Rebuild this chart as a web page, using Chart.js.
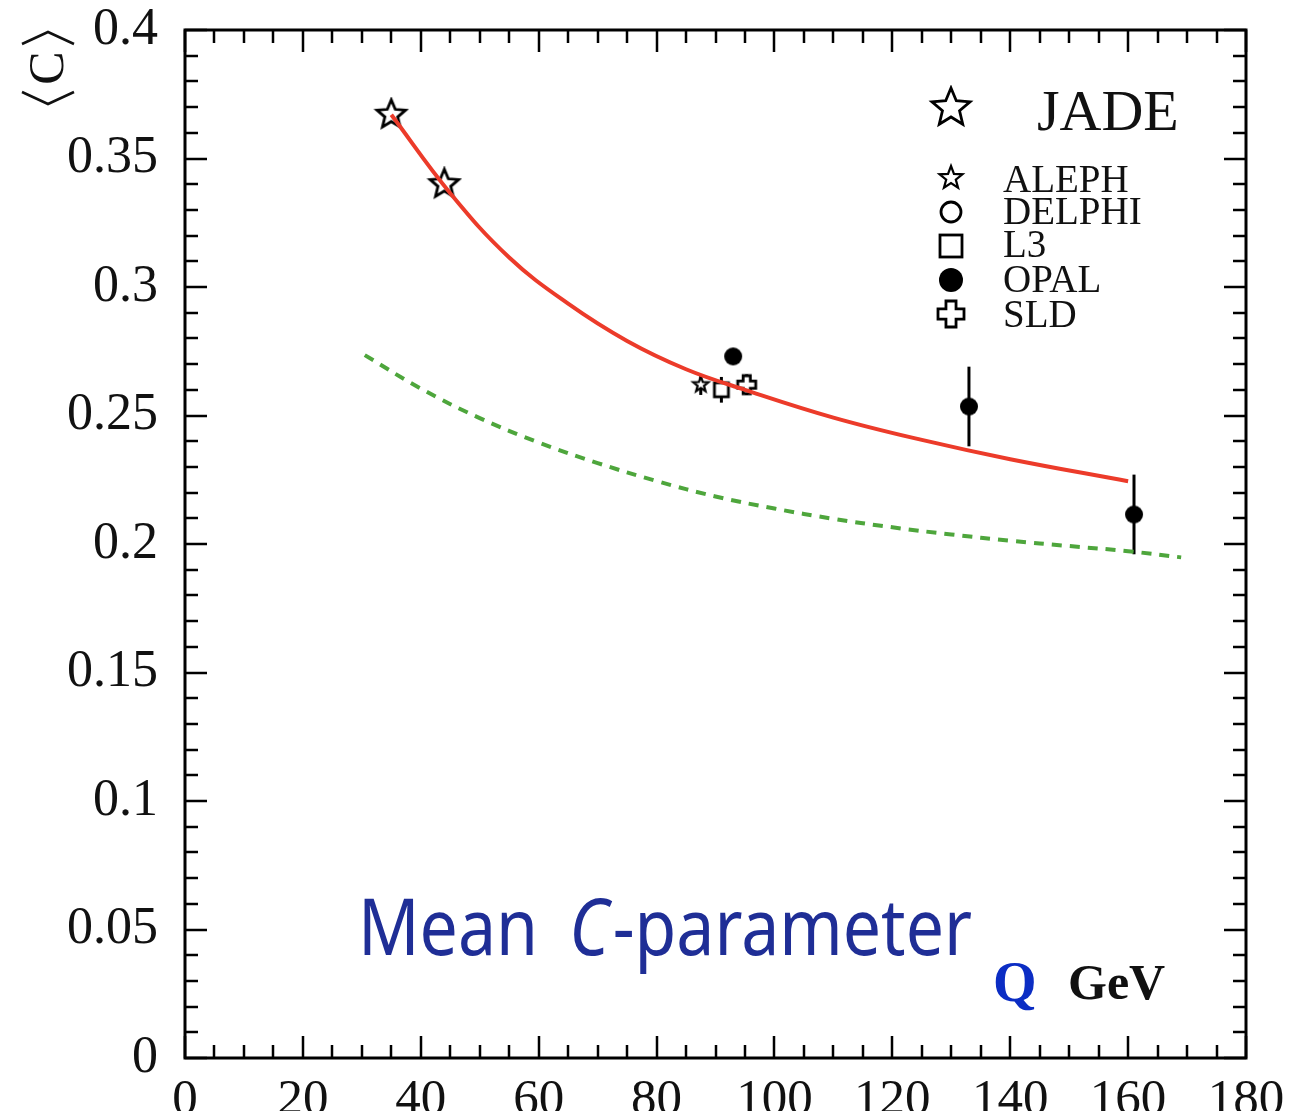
<!DOCTYPE html>
<html>
<head>
<meta charset="utf-8">
<script src="https://cdn.jsdelivr.net/npm/chart.js@4"></script>
<style>
  html, body { margin: 0; padding: 0; background: #fff; }
  canvas { display: block; }
</style>
</head>
<body>
<canvas id="meanC" width="1291" height="1111"></canvas>
<script>
// Q in GeV, <C> values with statistical errors
const jadeQ = [35, 44];
const jadeC = [0.367, 0.340];
const alephQ = [87.5];
const alephC = [0.262];
const alephErr = [0.004];
const delphiQ = [];
const delphiC = [];
const l3Q = [91];
const l3C = [0.260];
const l3Err = [0.005];
const opalQ = [93, 133, 161];
const opalC = [0.273, 0.2535, 0.2115];
const opalErr = [0.002, 0.0155, 0.0155];
const sldQ = [95.3];
const sldC = [0.262];
const sldErr = [0.004];

// fitted curve (solid) and perturbative prediction (dashed)
const fitQ = [35, 45, 55, 65, 75, 85, 95, 110, 125, 140, 160];
const fitC = [0.367, 0.3365, 0.3115, 0.2935, 0.279, 0.268, 0.260, 0.2492, 0.2405, 0.233, 0.2244];
const pertQ = [30.5, 40, 50, 60, 70, 80, 90, 100, 110, 120, 130, 140, 150, 160, 169];
const pertC = [0.2735, 0.2605, 0.249, 0.2395, 0.2315, 0.2245, 0.2185, 0.2138, 0.2098, 0.2065, 0.2037, 0.2013, 0.1992, 0.1972, 0.1948];

const xTicks = [0, 20, 40, 60, 80, 100, 120, 140, 160, 180];
const yTicks = [0, 0.05, 0.1, 0.15, 0.2, 0.25, 0.3, 0.35, 0.4];

const SERIF = '"Liberation Serif", "Times New Roman", serif';

function pts(qs, cs) {
    return qs.map((q, i) => ({ x: q, y: cs[i] }));
}

function starPath(g, R, r) {
    g.beginPath();
    for (let k = 0; k < 10; k++) {
        const rad = k % 2 === 0 ? R : r;
        const a = -Math.PI / 2 + k * Math.PI / 5;
        const px = rad * Math.cos(a), py = rad * Math.sin(a);
        if (k === 0) g.moveTo(px, py); else g.lineTo(px, py);
    }
    g.closePath();
}

// small canvases used as point styles and legend symbols
function marker(kind, size) {
    const c = document.createElement('canvas');
    c.width = c.height = Math.ceil(size * 2 + 6);
    const g = c.getContext('2d');
    g.translate(c.width / 2, c.height / 2);
    g.strokeStyle = '#000';
    g.fillStyle = '#fff';
    g.lineJoin = 'miter';
    g.lineWidth = 2.8;
    if (kind === 'star') {
        starPath(g, size, size * 0.45);
        g.fill(); g.stroke();
    } else if (kind === 'thinstar') {
        g.lineWidth = 2.2;
        starPath(g, size, size * 0.42);
        g.fill(); g.stroke();
    } else if (kind === 'circle') {
        g.beginPath(); g.arc(0, 0, size - 1, 0, Math.PI * 2);
        g.fill(); g.stroke();
    } else if (kind === 'square') {
        g.fillRect(-size, -size, size * 2, size * 2);
        g.strokeRect(-size + 1, -size + 1, size * 2 - 2, size * 2 - 2);
    } else if (kind === 'dot') {
        g.fillStyle = '#000';
        g.beginPath(); g.arc(0, 0, size, 0, Math.PI * 2); g.fill();
    } else if (kind === 'plus') {
        const a = size - 1, w = size * 0.36;
        g.beginPath();
        g.moveTo(-w, -a); g.lineTo(w, -a); g.lineTo(w, -w); g.lineTo(a, -w);
        g.lineTo(a, w); g.lineTo(w, w); g.lineTo(w, a); g.lineTo(-w, a);
        g.lineTo(-w, w); g.lineTo(-a, w); g.lineTo(-a, -w); g.lineTo(-w, -w);
        g.closePath();
        g.fill(); g.stroke();
    }
    return c;
}

// vertical error bars, drawn under the markers
const errorBars = {
    id: 'errorBars',
    beforeDatasetsDraw(chart) {
        const { ctx, scales: { x, y } } = chart;
        ctx.save();
        ctx.strokeStyle = '#000';
        ctx.lineWidth = 3;
        chart.data.datasets.forEach(ds => {
            if (!ds.errors) return;
            ds.data.forEach((p, i) => {
                const px = x.getPixelForValue(p.x);
                ctx.beginPath();
                ctx.moveTo(px, y.getPixelForValue(p.y - ds.errors[i]));
                ctx.lineTo(px, y.getPixelForValue(p.y + ds.errors[i]));
                ctx.stroke();
            });
        });
        ctx.restore();
    }
};

// closed frame with inward ticks on all four sides
const frame = {
    id: 'frame',
    afterDatasetsDraw(chart) {
        const { ctx, chartArea: a, scales: { x, y } } = chart;
        ctx.save();
        ctx.strokeStyle = '#000';
        ctx.lineWidth = 2.5;
        ctx.beginPath();
        for (let v = 0; v <= 180; v += 5) {
            const px = Math.round(x.getPixelForValue(v));
            const len = v % 20 === 0 ? 22 : 13;
            ctx.moveTo(px, a.bottom); ctx.lineTo(px, a.bottom - len);
            ctx.moveTo(px, a.top); ctx.lineTo(px, a.top + len);
        }
        for (let k = 0; k <= 40; k++) {
            const py = Math.round(y.getPixelForValue(k / 100));
            const len = k % 5 === 0 ? 22 : 13;
            ctx.moveTo(a.left, py); ctx.lineTo(a.left + len, py);
            ctx.moveTo(a.right, py); ctx.lineTo(a.right - len, py);
        }
        ctx.stroke();
        ctx.lineWidth = 3;
        ctx.strokeRect(a.left, a.top, a.right - a.left, a.bottom - a.top);
        ctx.restore();
    }
};

const legendRows = [
    { kind: 'thinstar', size: 12, label: 'ALEPH', y: 178, base: 192 },
    { kind: 'circle', size: 11, label: 'DELPHI', y: 212, base: 224 },
    { kind: 'square', size: 12, label: 'L3', y: 246, base: 257 },
    { kind: 'dot', size: 12, label: 'OPAL', y: 280, base: 292 },
    { kind: 'plus', size: 14, label: 'SLD', y: 314, base: 327 }
];

const annotations = {
    id: 'annotations',
    afterDraw(chart) {
        const ctx = chart.ctx;
        ctx.save();

        // legend
        const big = marker('star', 20);
        ctx.drawImage(big, 951 - big.width / 2, 108 - big.height / 2);
        ctx.fillStyle = '#111';
        ctx.textBaseline = 'alphabetic';
        ctx.font = '58px ' + SERIF;
        ctx.fillText('JADE', 1037, 130);
        ctx.font = '39px ' + SERIF;
        legendRows.forEach(r => {
            const m = marker(r.kind, r.size);
            ctx.drawImage(m, 951 - m.width / 2, r.y - m.height / 2);
            ctx.fillText(r.label, 1003, r.base);
        });

        // y-axis title <C>, rotated
        ctx.save();
        ctx.translate(48, 68);
        ctx.rotate(-Math.PI / 2);
        ctx.strokeStyle = '#111';
        ctx.lineWidth = 2.5;
        ctx.beginPath();
        ctx.moveTo(-24, -26); ctx.lineTo(-36, 0); ctx.lineTo(-24, 26);
        ctx.moveTo(24, -26); ctx.lineTo(36, 0); ctx.lineTo(24, 26);
        ctx.stroke();
        ctx.font = '50px ' + SERIF;
        ctx.textAlign = 'center';
        ctx.textBaseline = 'middle';
        ctx.fillText('C', 0, 2);
        ctx.restore();

        // title
        const sans = '"Noto Sans", "Open Sans", sans-serif';
        const parts = [
            { t: 'Mean', f: '78px ' + sans, gap: 0 },
            { t: 'C', f: 'italic 78px ' + sans, gap: 36 },
            { t: '-parameter', f: '78px ' + sans, gap: 4 }
        ];
        let total = 0;
        parts.forEach(p => { ctx.font = p.f; p.w = ctx.measureText(p.t).width; total += p.w + p.gap; });
        const sx = 614 / total;
        ctx.save();
        ctx.translate(358, 955);
        ctx.scale(sx, 1);
        ctx.fillStyle = '#1f2e96';
        let cx = 0;
        parts.forEach(p => {
            cx += p.gap;
            ctx.font = p.f;
            ctx.fillText(p.t, cx, 0);
            cx += p.w;
        });
        ctx.restore();

        // x-axis title
        ctx.font = 'bold 56px ' + SERIF;
        ctx.fillStyle = '#0b2dc4';
        ctx.fillText('Q', 993, 1001);
        ctx.font = 'bold 50px ' + SERIF;
        ctx.fillStyle = '#111';
        ctx.fillText('GeV', 1068, 999);

        ctx.restore();
    }
};

const ctx = document.getElementById('meanC').getContext('2d');
new Chart(ctx, {
    type: 'scatter',
    data: {
        datasets: [
            {
                label: 'fit',
                data: pts(fitQ, fitC),
                showLine: true,
                borderColor: '#ec3b2a',
                borderWidth: 4,
                pointRadius: 0,
                tension: 0.4
            },
            {
                label: 'perturbative',
                data: pts(pertQ, pertC),
                showLine: true,
                borderColor: '#4ea63c',
                borderWidth: 4,
                borderDash: [10, 8],
                pointRadius: 0,
                tension: 0.4
            },
            { label: 'JADE', data: pts(jadeQ, jadeC), pointStyle: marker('star', 15) },
            { label: 'ALEPH', data: pts(alephQ, alephC), errors: alephErr, pointStyle: marker('thinstar', 8) },
            { label: 'DELPHI', data: pts(delphiQ, delphiC), pointStyle: marker('circle', 8) },
            { label: 'L3', data: pts(l3Q, l3C), errors: l3Err, pointStyle: marker('square', 8) },
            { label: 'OPAL', data: pts(opalQ, opalC), errors: opalErr, pointStyle: marker('dot', 9) },
            { label: 'SLD', data: pts(sldQ, sldC), errors: sldErr, pointStyle: marker('plus', 10) }
        ]
    },
    options: {
        responsive: false,
        animation: false,
        layout: { padding: { top: 30, right: 45, left: 0, bottom: 0 } },
        plugins: {
            legend: { display: false },
            tooltip: { enabled: false }
        },
        scales: {
            x: {
                type: 'linear',
                min: 0,
                max: 180,
                afterBuildTicks: s => { s.ticks = xTicks.map(v => ({ value: v })); },
                afterFit: s => { s.height = 53; s.paddingLeft = 0; s.paddingRight = 0; },
                grid: { display: false },
                border: { display: false },
                ticks: {
                    padding: 4,
                    maxRotation: 0,
                    color: '#111',
                    font: { family: SERIF, size: 51 }
                }
            },
            y: {
                type: 'linear',
                min: 0,
                max: 0.4,
                afterBuildTicks: s => { s.ticks = yTicks.map(v => ({ value: v })); },
                afterFit: s => { s.width = 185; s.paddingTop = 0; s.paddingBottom = 0; },
                grid: { display: false },
                border: { display: false },
                ticks: {
                    padding: 19,
                    color: '#111',
                    font: { family: SERIF, size: 52 },
                    callback: v => String(Number(v.toFixed(2)))
                }
            }
        }
    },
    plugins: [errorBars, frame, annotations]
});
</script>
</body>
</html>
